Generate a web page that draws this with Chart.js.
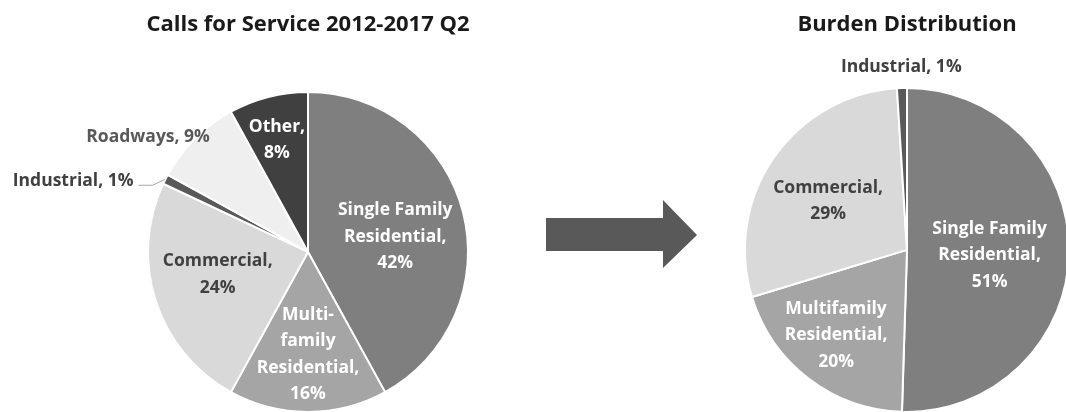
<!DOCTYPE html>
<html>
<head>
<meta charset="utf-8">
<script src="https://cdn.jsdelivr.net/npm/chart.js@4"></script>
<style>
  html, body { margin: 0; padding: 0; background: #fff; overflow: hidden; }
  body { width: 1066px; height: 412px; position: relative; }
  .box { position: absolute; }
  #leftBox { left: 0; top: 0; width: 616px; height: 457px; }
  #rightBox { left: 707px; top: 0; width: 400px; height: 453px; }
  #arrow {
    position: absolute; left: 546px; top: 200px; width: 151px; height: 68px;
    background: #595959;
    clip-path: polygon(0 18px, 117px 18px, 117px 0, 151px 35px, 117px 68px, 117px 51px, 0 51px);
  }
</style>
</head>
<body>
<div class="box" id="leftBox"><canvas id="calls"></canvas></div>
<div id="arrow"></div>
<div class="box" id="rightBox"><canvas id="burden"></canvas></div>
<script>
// --- data -------------------------------------------------------------
const callsCategories = ['Single Family Residential', 'Multi-family Residential', 'Commercial', 'Industrial', 'Roadways', 'Other'];
const callsValues = [42, 16, 24, 1, 9, 8];
const callsLines = [['Single Family', 'Residential,'], ['Multi-', 'family', 'Residential,'], ['Commercial,'], ['Industrial,'], ['Roadways,'], ['Other,']];

const burdenCategories = ['Single Family Residential', 'Multifamily Residential', 'Commercial', 'Industrial'];
const burdenValues = [51, 20, 29, 1];
const burdenLines = [['Single Family', 'Residential,'], ['Multifamily', 'Residential,'], ['Commercial,'], ['Industrial,']];

// --- look -------------------------------------------------------------
const FONT = '"Open Sans", sans-serif';
const SLICE = {
  sf: '#7f7f7f', mf: '#a5a5a5', com: '#d9d9d9', ind: '#595959', road: '#efefef', other: '#404040',
};
const DARK = '#404040';

// label placement per slice: fraction of radius along the mid angle, nudge,
// inline = value on the same line, leader = draw the little connector
const callsPlace = [
  { frac: 0.55, dx: 2, dy: 7, color: '#fff' },
  { frac: 0.64, dx: 0, dy: 0, color: '#fff' },
  { frac: 0.58, dx: -2, dy: -6, color: DARK },
  { frac: 1.0, dx: -32, dy: 2, color: DARK, inline: true, align: 'right', leader: true },
  { frac: 1.0, dx: 15, dy: -2, color: '#595959', inline: true, align: 'right' },
  { frac: 0.73, dx: -2, dy: 1, color: '#fff' },
];
const burdenPlace = [
  { frac: 0.51, dx: 0, dy: 4, color: '#fff' },
  { frac: 0.68, dx: -4, dy: -2, color: '#fff' },
  { frac: 0.57, dx: -3, dy: 4, color: DARK },
  { frac: 1.13, dx: 0, dy: 0, color: DARK, inline: true },
];

const sliceLabels = {
  id: 'sliceLabels',
  afterDatasetsDraw(chart, args, opts) {
    const ctx = chart.ctx;
    const meta = chart.getDatasetMeta(0);
    const values = chart.data.datasets[0].data;
    ctx.save();
    ctx.font = 'bold 17.5px ' + FONT;
    ctx.textBaseline = 'middle';
    meta.data.forEach((arc, i) => {
      const p = opts.place[i];
      const mid = (arc.startAngle + arc.endAngle) / 2;
      const r = arc.outerRadius;
      const ex = arc.x + Math.cos(mid) * r;
      const ey = arc.y + Math.sin(mid) * r;
      const ax = arc.x + Math.cos(mid) * r * p.frac + p.dx;
      const ay = arc.y + Math.sin(mid) * r * p.frac + p.dy;
      let lines = opts.lines[i].slice();
      const pct = values[i] + '%';
      if (p.inline) lines[lines.length - 1] += ' ' + pct;
      else lines.push(pct);
      ctx.fillStyle = p.color;
      ctx.textAlign = p.align || 'center';
      const lh = 26.5;
      lines.forEach((t, k) => {
        ctx.fillText(t, ax, ay + (k - (lines.length - 1) / 2) * lh);
      });
      if (p.leader) {
        ctx.strokeStyle = '#a6a6a6';
        ctx.lineWidth = 1;
        ctx.beginPath();
        ctx.moveTo(ax + 5, ay + 4);
        ctx.lineTo(ax + 19, ay + 4);
        ctx.lineTo(ex, ey);
        ctx.stroke();
      }
    });
    ctx.restore();
  },
};

function pie(id, title, categories, values, colors, radius, lines, place) {
  return new Chart(document.getElementById(id), {
    type: 'pie',
    data: {
      labels: categories,
      datasets: [{
        data: values,
        backgroundColor: colors,
        borderColor: '#ffffff',
        borderWidth: 2,
        radius: radius,
      }],
    },
    options: {
      responsive: true,
      maintainAspectRatio: false,
      animation: false,
      layout: { padding: 0 },
      plugins: {
        legend: { display: false },
        tooltip: { enabled: false },
        title: {
          display: true,
          text: title,
          color: '#1a1a1a',
          font: { family: FONT, size: 22, weight: 'bold' },
          padding: { top: 12, bottom: 8.4 },
        },
        sliceLabels: { lines: lines, place: place },
      },
    },
    plugins: [sliceLabels],
  });
}

pie('calls', 'Calls for Service 2012-2017 Q2', callsCategories, callsValues,
  [SLICE.sf, SLICE.mf, SLICE.com, SLICE.ind, SLICE.road, SLICE.other], 160, callsLines, callsPlace);
pie('burden', 'Burden Distribution', burdenCategories, burdenValues,
  [SLICE.sf, SLICE.mf, SLICE.com, SLICE.ind], 162, burdenLines, burdenPlace);
</script>
</body>
</html>
